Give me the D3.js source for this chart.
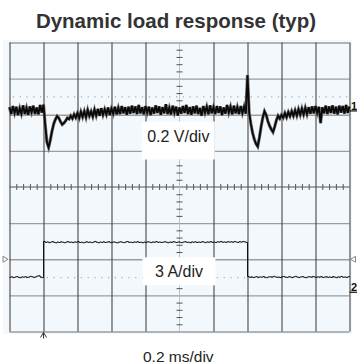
<!DOCTYPE html>
<html><head><meta charset="utf-8">
<script src="https://cdn.jsdelivr.net/npm/d3@7"></script>
<style>html,body{margin:0;padding:0;background:#fff;overflow:hidden}svg{display:block}</style>
</head><body><svg id="c" width="357" height="363"></svg>
<script>
// ---- text ----
const titleText = "Dynamic load response (typ)";
const ch1Label = "0.2 V/div";
const ch2Label = "3 A/div";
const timeLabel = "0.2 ms/div";
const ch1Marker = "1";
const ch2Marker = "2";

// ---- scope settings ----
const msPerDiv = 0.2;        // 10 divisions -> 2 ms
const voltsPerDiv = 0.2;
const ampsPerDiv = 3;
const ch1OffsetDiv = 2.12;   // ch1 zero (AC-coupled deviation)
const ch2OffsetDiv = -2.9;   // ch2 zero current
const ch1RefMv = 75;         // dotted reference level ch1
const ch2RefA = 1.17;        // dotted reference level ch2
const triggerMs = 0.2;
const posMarkerDiv = -2;
const sampleStepMs = 0.01;

// ---- channel 1: output voltage deviation (mV), one sample per 0.01 ms ----
const ch1DeviationMv = [
  18,-20,24,-14,20,-26,12,-18,28,-20, 14,-24,22,-10,26,-20,16,-22,30,-12,
  32,-80,-175,-205,-165,-115,-75,-50,-32,-42, -62,-78,-70,-58,-42,-48,-30,-45,-22,-40,
  -15,-42,-8,-36,-5,-38,2,-30,-6,-34, 4,-28,8,-30,12,-24,6,-22,16,-26,
  10,-18,20,-22,14,-20,24,-16,18,-24, 20,-18,26,-14,22,-20,30,-16,18,-22,
  24,-12,20,-26,16,-18,28,-14,22,-24, 18,-16,34,-20,14,-22,26,-12,20,-28,
  16,-18,24,-14,30,-20,18,-24,22,-16, 26,-20,14,-30,24,-12,20,-22,28,-16,
  18,-20,24,-14,22,-26,16,-18,30,-12, 20,-22,26,-16,18,-20,24,-14,20,-18,
  195,-15,-75,-125,-160,-185,-200,-150,-90,-40, -5,-25,-60,-85,-105,-120,-90,-55,-30,-45,
  -25,-40,-15,-38,-10,-32,-5,-30,0,-28, 6,-24,10,-22,14,-20,18,-18,22,-16,
  24,-14,20,-70,18,-16,26,-20,22,-14, 28,-18,20,-22,26,-12,24,-18,30,-14,
  22
];

// ---- channel 2: load current (A), one sample per 0.01 ms ----
const ch2CurrentA = [
  1.20,1.24,1.18,1.22,1.26,1.20,1.17,1.23,1.21,1.25, 1.19,1.22,1.28,1.24,1.20,1.23,1.30,1.33,1.22,1.18,
  4.18,4.10,4.14,4.08,4.12,4.16,4.10,4.06,4.13,4.09, 4.15,4.11,4.07,4.12,4.16,4.10,4.13,4.08,4.14,4.11,
  4.17,4.09,4.12,4.06,4.11,4.15,4.10,4.13,4.08,4.12, 4.18,4.11,4.07,4.13,4.10,4.15,4.09,4.12,4.16,4.08,
  4.11,4.14,4.10,4.06,4.12,4.15,4.11,4.08,4.13,4.17, 4.10,4.12,4.08,4.14,4.11,4.16,4.09,4.12,4.07,4.13,
  4.10,4.15,4.12,4.08,4.14,4.11,4.17,4.10,4.13,4.09, 4.12,4.15,4.11,4.07,4.13,4.10,4.16,4.12,4.09,4.14,
  4.11,4.08,4.13,4.16,4.10,4.12,4.07,4.14,4.11,4.15, 4.09,4.13,4.10,4.16,4.12,4.08,4.14,4.11,4.17,4.10,
  4.13,4.09,4.15,4.12,4.18,4.11,4.14,4.10,4.16,4.12, 4.15,4.11,4.17,4.13,4.10,4.16,4.12,4.18,4.14,4.10,
  1.26,1.20,1.24,1.18,1.22,1.25,1.19,1.23,1.21,1.26, 1.20,1.17,1.23,1.25,1.21,1.28,1.24,1.20,1.22,1.18,
  1.24,1.27,1.21,1.19,1.25,1.22,1.18,1.24,1.28,1.21, 1.19,1.23,1.26,1.20,1.17,1.22,1.25,1.21,1.27,1.23,
  1.19,1.24,1.21,1.26,1.18,1.22,1.25,1.20,1.23,1.19, 1.26,1.21,1.17,1.24,1.22,1.27,1.20,1.23,1.19,1.25,
  1.21
];

// ---- drawing ----
const svg = d3.select("#c");
const L = 9.5, R = 349.5, T = 42.5, B = 331.5;
const x = d3.scaleLinear().domain([0, 10 * msPerDiv]).range([L, R]);
const yDiv = d3.scaleLinear().domain([-4, 4]).range([B, T]);
const yV = mv => yDiv(ch1OffsetDiv + mv / 1000 / voltsPerDiv);
const yA = a => yDiv(ch2OffsetDiv + a / ampsPerDiv);
const font = "'Liberation Sans', Arial, Helvetica, sans-serif";

// plot background
svg.append("rect").attr("x", 3).attr("y", 40).attr("width", 349).attr("height", 294)
  .attr("fill", "#f3f8fd");

// title
svg.append("text").attr("x", 176).attr("y", 28).attr("text-anchor", "middle")
  .attr("font-family", font).attr("font-weight", "bold").attr("font-size", 20.5)
  .attr("fill", "#333").text(titleText);

const majorT = d3.range(0, 11).map(i => i * msPerDiv);
const majorD = d3.range(-4, 5);

// horizontal grid (light grey)
const gy = svg.append("g").attr("transform", `translate(${L},0)`)
  .call(d3.axisRight(yDiv).tickValues(majorD.filter(d => d !== 0)).tickSize(R - L).tickFormat(""));
gy.select(".domain").remove();
gy.selectAll("line").attr("stroke", "#9d9d9d").attr("stroke-width", 1.3);

// vertical grid (dark)
const gx = svg.append("g").attr("transform", `translate(0,${T})`)
  .call(d3.axisBottom(x).tickValues(majorT.filter((d, i) => i !== 5)).tickSize(B - T).tickFormat(""));
gx.select(".domain").remove();
gx.selectAll("line").attr("stroke", "#444").attr("stroke-width", 1.1);

// center cross
svg.append("line").attr("x1", L).attr("x2", R).attr("y1", yDiv(0)).attr("y2", yDiv(0))
  .attr("stroke", "#555").attr("stroke-width", 1);
svg.append("line").attr("x1", x(5 * msPerDiv)).attr("x2", x(5 * msPerDiv)).attr("y1", T).attr("y2", B)
  .attr("stroke", "#b5b5b5").attr("stroke-width", 0.8);

const minorT = d3.range(1, 50).filter(i => i % 5 !== 0).map(i => i * msPerDiv / 5);
const minorD = d3.range(-19, 20).filter(i => i % 5 !== 0).map(i => i / 5);
const mx = svg.append("g").attr("transform", `translate(0,${yDiv(0) - 3})`)
  .call(d3.axisBottom(x).tickValues(minorT).tickSize(6).tickFormat(""));
mx.select(".domain").remove();
mx.selectAll("line").attr("stroke", "#555").attr("stroke-width", 1);
const my = svg.append("g").attr("transform", `translate(${x(5 * msPerDiv) + 3},0)`)
  .call(d3.axisLeft(yDiv).tickValues(minorD).tickSize(6).tickFormat(""));
my.select(".domain").remove();
my.selectAll("line").attr("stroke", "#555").attr("stroke-width", 1);

// dotted reference lines
[yV(ch1RefMv), yA(ch2RefA)].forEach(yy => {
  svg.append("line").attr("x1", L + 3.4).attr("x2", R).attr("y1", yy).attr("y2", yy)
    .attr("stroke", "#8a8a8a").attr("stroke-width", 1).attr("stroke-dasharray", "1 5.8");
});

// traces
const t = i => x(i * sampleStepMs);
const v1 = d3.line().x((d, i) => t(i)).y(d => yV(d));
svg.append("path").datum(ch1DeviationMv).attr("d", v1)
  .attr("fill", "none").attr("stroke", "#777").attr("stroke-width", 3.2).attr("stroke-linejoin", "miter");
svg.append("path").datum(ch1DeviationMv).attr("d", v1)
  .attr("fill", "none").attr("stroke", "#0a0a0a").attr("stroke-width", 1.9);
svg.append("path").datum(ch2CurrentA)
  .attr("d", d3.line().x((d, i) => t(i)).y(d => yA(d)).curve(d3.curveStepAfter))
  .attr("fill", "none").attr("stroke", "#111").attr("stroke-width", 1);

// labels with white boxes
function boxLabel(txt, cx, y0, y1, baseline) {
  svg.append("rect").attr("x", cx - 36.5).attr("y", y0).attr("width", 73).attr("height", y1 - y0).attr("fill", "#fff");
  svg.append("text").attr("x", cx).attr("y", baseline).attr("text-anchor", "middle")
    .attr("font-family", font).attr("font-size", 16).attr("fill", "#222").text(txt);
}
boxLabel(ch1Label, 178.3, 121.5, 159.5, 141.7);
boxLabel(ch2Label, 179, 257.3, 285.3, 276.7);

// time label
svg.append("text").attr("x", 178.3).attr("y", 361.5).attr("text-anchor", "middle")
  .attr("font-family", font).attr("font-size", 15.5).attr("fill", "#222").text(timeLabel);

// channel ground markers
[[ch1Marker, yV(0)], [ch2Marker, yA(0)]].forEach(([m, yy]) => {
  svg.append("text").attr("x", 351).attr("y", yy - 0.5).attr("font-family", font)
    .attr("font-weight", "bold").attr("font-size", 11).attr("fill", "#111").text(m);
  svg.append("line").attr("x1", R).attr("x2", 357).attr("y1", yy + 0.5).attr("y2", yy + 0.5)
    .attr("stroke", "#111").attr("stroke-width", 1.2);
});

// position triangles
const ty = yDiv(posMarkerDiv);
svg.append("path").attr("d", `M3,${ty - 3}L8,${ty}L3,${ty + 3}Z`).attr("fill", "none").attr("stroke", "#888");
svg.append("path").attr("d", `M355.5,${ty - 3}L350.5,${ty}L355.5,${ty + 3}Z`).attr("fill", "none").attr("stroke", "#888");

// trigger arrow
const tx = x(triggerMs);
svg.append("path").attr("d", `M${tx - 3},${B + 6}L${tx},${B + 1}L${tx + 3},${B + 6}M${tx},${B + 1}L${tx},${B + 7}`)
  .attr("fill", "none").attr("stroke", "#333").attr("stroke-width", 1);
</script></body></html>
